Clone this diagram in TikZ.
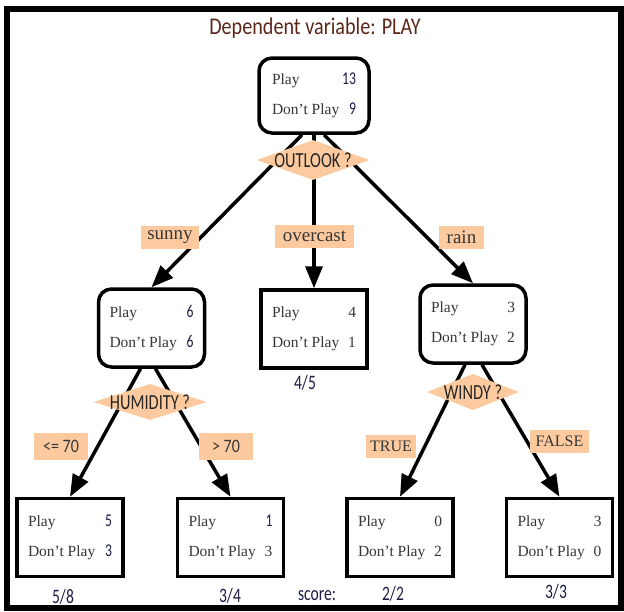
\documentclass[tikz,border=0pt]{standalone}
\usepackage{fontspec}
\setmainfont{Liberation Serif}
\setsansfont{Carlito}
\newfontfamily\condsans[FakeStretch=0.84]{Carlito}
\newfontfamily\tallsans[FakeStretch=0.76]{Carlito}
\usepackage{tikz}
\usetikzlibrary{arrows.meta}
\usetikzlibrary{shapes.geometric}
\tikzset{counts/.style = {draw, line width = 3.5pt, fill = white, inner sep = 0pt, minimum width = 106pt, minimum height = 78pt, text = mgray, font = \fontsize{15.5}{30}\selectfont}}
\tikzset{split/.style = {counts, rounded corners = 13pt}}
\tikzset{test/.style = {diamond, fill = mpeach, inner sep = 0pt, label = {[text = black!85, font = \tallsans\fontsize{21.5}{21.5}\selectfont]center:#1}}}
\tikzset{branch/.style = {fill = mpeach, inner sep = 0pt, minimum height = 23pt, text = mgray}}
\tikzset{edge/.style = {line width = 3.5pt, -{Triangle[length = 22pt, width = 17pt]}}}
\tikzset{score/.style = {text = mnavy, font = \tallsans\fontsize{20.5}{20.5}\selectfont}}
\definecolor{mpeach}{RGB}{252, 202, 158}
\definecolor{mbrown}{RGB}{92, 38, 26}
\definecolor{mnavy}{RGB}{28, 28, 70}
\definecolor{mgray}{RGB}{55, 55, 55}
\newcommand{\pdcounts}[2]{\parbox{84pt}{Play\hfill #1\\Don't Play\hfill #2}}
\newcommand{\nsf}[1]{{\tallsans\fontsize{18}{18}\selectfont\color{mnavy}#1}}

\begin{document}
\begin{tikzpicture}[x = 1pt, y = -1pt]
  \useasboundingbox (0, 0) rectangle (624, 611);
  \draw [line width = 6pt] (7, 9) rectangle (621, 608);
  \node [text = mbrown, font = \condsans\fontsize{24}{24}\selectfont] (title) at (315, 28) {Dependent variable: PLAY};
  % tree nodes
  \node [split, minimum width = 110pt, minimum height = 75pt] (root) at (314, 95.5) {\pdcounts{\nsf{13}}{\nsf{9}}};
  \node [split] (sunny) at (151.5, 328) {\pdcounts{\nsf{6}}{\nsf{6}}};
  \node [counts] (overcast) at (314, 329) {\pdcounts{4}{1}};
  \node [split] (rain) at (473, 324) {\pdcounts{3}{2}};
  \node [counts] (humlow) at (70, 537.5) {\pdcounts{\nsf{5}}{\nsf{3}}};
  \node [counts] (humhigh) at (230.5, 537.5) {\pdcounts{\nsf{1}}{3}};
  \node [counts] (windtrue) at (400, 537.5) {\pdcounts{0}{2}};
  \node [counts] (windfalse) at (559.5, 537.5) {\pdcounts{3}{0}};
  % connectors
  \draw [edge] ([xshift = -12pt]root.south) -- (sunny.north);
  \draw [edge] (root.south) -- (overcast.north);
  \draw [edge] ([xshift = 10pt]root.south) -- (rain.north);
  \draw [edge] ([xshift = -11pt]sunny.south) -- (humlow.north);
  \draw [edge] ([xshift = 4pt]sunny.south) -- (humhigh.north);
  \draw [edge] ([xshift = -8pt]rain.south) -- (windtrue.north);
  \draw [edge] ([xshift = 9pt]rain.south) -- (windfalse.north);
  % tests
  \node [test = {OUTLOOK ?}, minimum width = 113pt, minimum height = 40pt] (outlook) at (313, 160) {};
  \node [test = {HUMIDITY ?}, minimum width = 113pt, minimum height = 36pt] (humidity) at (150, 402) {};
  \node [test = {WINDY ?}, minimum width = 92pt, minimum height = 36pt] (windy) at (473, 392) {};
  % branch labels
  \node [branch, minimum width = 58pt, font = \fontsize{19}{19}\selectfont] (lsunny) at (170, 237) {sunny};
  \node [branch, minimum width = 79pt, font = \fontsize{19}{19}\selectfont] (lovercast) at (314.5, 236) {overcast};
  \node [branch, minimum width = 45pt, font = \fontsize{19}{19}\selectfont] (lrain) at (461.5, 237) {rain};
  \node [branch, minimum width = 54pt, minimum height = 27pt, font = \condsans\fontsize{19}{19}\selectfont] (llow) at (61, 446.5) {<= 70};
  \node [branch, minimum width = 54pt, minimum height = 27pt, font = \condsans\fontsize{19}{19}\selectfont] (lhigh) at (226, 446.5) {> 70};
  \node [branch, minimum width = 50pt, font = \fontsize{16}{16}\selectfont] (ltrue) at (391, 446.5) {TRUE};
  \node [branch, minimum width = 59pt, font = \fontsize{16}{16}\selectfont] (lfalse) at (559.5, 441.5) {FALSE};
  % scores
  \node [score] (sovercast) at (305, 383) {4/5};
  \foreach \name/\x/\y/\txt in {slow/63/597/5\slash 8, shigh/230/596/3\slash 4, slabel/317/596/score:, strue/393/594/2\slash 2, sfalse/556/592/3\slash 3} {
    \node [score] (\name) at (\x, \y) {\txt};
  }
\end{tikzpicture}
\end{document}
